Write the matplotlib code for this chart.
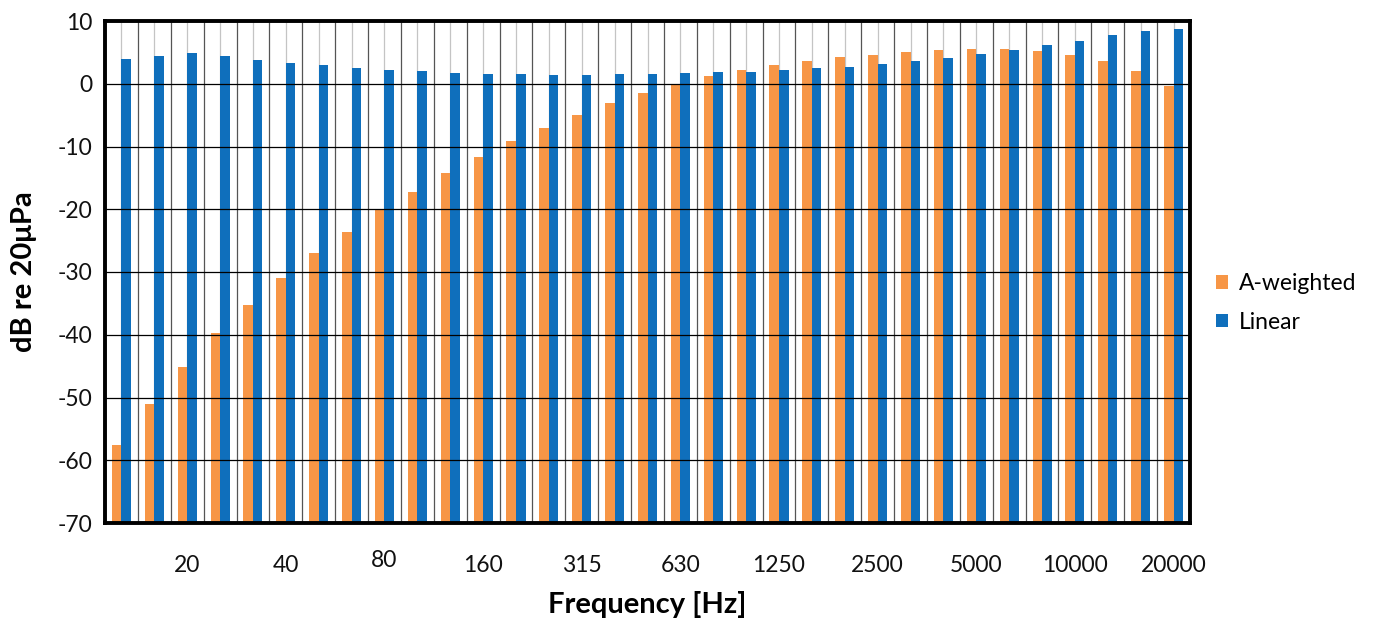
import matplotlib
matplotlib.use("Agg")
import matplotlib.pyplot as plt
import numpy as np

plt.rcParams['font.family'] = ['Lato', 'DejaVu Sans']

categories = ["12.5", "16", "20", "25", "31.5", "40", "50", "63", "80", "100", "125",
              "160", "200", "250", "315", "400", "500", "630", "800", "1000", "1250",
              "1600", "2000", "2500", "3150", "4000", "5000", "6300", "8000", "10000",
              "12500", "16000", "20000"]
a_weighted = [-57.5, -51.0, -45.2, -39.7, -35.2, -30.9, -27.0, -23.7, -20.1, -17.2, -14.3,
              -11.6, -9.1, -7.1, -5.0, -3.1, -1.4, 0.0, 1.2, 2.2, 3.0,
              3.7, 4.25, 4.6, 5.05, 5.35, 5.5, 5.5, 5.25, 4.6, 3.6, 2.0, -0.3]
linear = [4.0, 4.45, 4.9, 4.4, 3.85, 3.35, 3.0, 2.45, 2.2, 2.0, 1.7,
          1.55, 1.5, 1.45, 1.45, 1.55, 1.6, 1.65, 1.8, 1.95, 2.2,
          2.5, 2.7, 3.1, 3.55, 4.1, 4.7, 5.35, 6.1, 6.85, 7.7, 8.4, 8.75]
labelled = ["20", "40", "80", "160", "315", "630", "1250", "2500", "5000", "10000", "20000"]
yticks = [10, 0, -10, -20, -30, -40, -50, -60, -70]
y_min, y_max = -70, 10

orange = '#F79646'
blue = '#0F6FBC'

fig = plt.figure(figsize=(13.84, 6.19), dpi=100)
ax = fig.add_axes([105/1384, 1-523/619, (1190-105)/1384, (523-21)/619])

n = len(categories)
x = np.arange(n)
w = 0.29
a_arr = np.array(a_weighted)
l_arr = np.array(linear)
# bars rise from the bottom of the axis (axis crosses at -70)
ax.bar(x - w/2, a_arr - y_min, bottom=y_min, width=w, color=orange, zorder=2, label='A-weighted')
ax.bar(x + w/2, l_arr - y_min, bottom=y_min, width=w, color=blue, zorder=2, label='Linear')

ax.set_xlim(-0.5, n - 0.5)
ax.set_ylim(y_min, y_max)

# gridlines
for b in np.arange(-0.5, n, 1.0):
    ax.axvline(b, color='#555555', lw=0.9, zorder=3)
for c in x:
    ax.axvline(c, color='#c4c4c4', lw=0.9, zorder=1)
for yv in yticks:
    ax.axhline(yv, color='black', lw=0.9, zorder=3)

ax.set_yticks(yticks)
ax.set_yticklabels([str(v) for v in yticks], fontsize=16.5, color='#111111')
ticks_pos = [categories.index(l) for l in labelled]
ax.set_xticks(ticks_pos)
ax.set_xticklabels(labelled, fontsize=16.5, color='#111111')
for lab in ax.get_xticklabels():
    if lab.get_text() == "80":
        lab.set_y(0.009)
ax.tick_params(axis='y', length=0, pad=9)
ax.tick_params(axis='x', length=0, pad=23)

for s in ax.spines.values():
    s.set_linewidth(2.8)
    s.set_color('black')
    s.set_zorder(5)

ax.set_ylabel('dB re 20μPa', fontsize=21, fontweight='bold', labelpad=15)
ax.set_xlabel('Frequency [Hz]', fontsize=21, fontweight='bold', labelpad=11)

fig.legend(handles=[ax.patches[0], ax.patches[n]], labels=['A-weighted', 'Linear'],
           loc='center left', bbox_to_anchor=(1195/1384, 1-303/619), frameon=False,
           fontsize=16.5, handlelength=0.55, handleheight=0.55, handletextpad=0.45,
           labelspacing=0.75)

fig.savefig('out.png', dpi=100)
